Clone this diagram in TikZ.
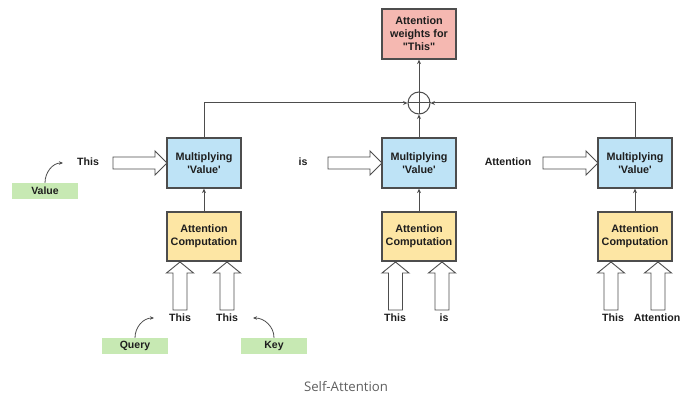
\documentclass[tikz,border=0pt]{standalone}
\usepackage{fontspec}
\setmainfont{Liberation Sans}[Ligatures=TeXOff]
\newfontfamily\capfont{Open Sans}
\usetikzlibrary{arrows.meta}

\definecolor{edge}{HTML}{4D4D4D}
\definecolor{ink}{HTML}{1E1E1E}
\definecolor{capgrey}{HTML}{5F5F5F}
\definecolor{redfill}{HTML}{F5B8B1}
\definecolor{bluefill}{HTML}{BEE3F6}
\definecolor{yellowfill}{HTML}{FDE6A4}
\definecolor{greenfill}{HTML}{C7E9B3}

% hollow block arrow pointing up: x of axis, y of tip, y of tail
\newcommand\hollowup[3]{%
  \draw[hollow] (#1-7,#3) -- (#1-7,#2+11) -- (#1-13.5,#2+11) -- (#1,#2)
    -- (#1+13.5,#2+11) -- (#1+7,#2+11) -- (#1+7,#3) -- cycle;}
% hollow block arrow pointing right: y of axis, x of tail, x of tip
\newcommand\hollowright[3]{%
  \draw[hollow] (#2,#1-6) -- (#3-12,#1-6) -- (#3-12,#1-12) -- (#3,#1)
    -- (#3-12,#1+12) -- (#3-12,#1+6) -- (#2,#1+6) -- cycle;}

\begin{document}
\begin{tikzpicture}[x=1pt,y=-1pt,
  box/.style={draw=edge, line width=1.3pt, minimum width=74pt, minimum height=50pt,
    inner sep=0pt, align=center, text=ink,
    font=\bfseries\fontsize{10.8}{13}\selectfont},
  redbox/.style={box, fill=redfill},
  multbox/.style={box, fill=bluefill},
  attbox/.style={box, fill=yellowfill, minimum height=49pt},
  tag/.style={fill=greenfill, minimum width=66pt, minimum height=16pt, inner sep=0pt,
    text=ink, font=\bfseries\fontsize{10.5}{12}\selectfont},
  lab/.style={inner sep=0pt, text=ink, font=\bfseries\fontsize{10.6}{12}\selectfont},
  conn/.style={draw=edge, line width=1pt, -{Stealth[length=4.5pt,width=4pt]}},
  curv/.style={draw=edge, line width=0.8pt, -{Stealth[length=4pt,width=3.5pt]}},
  hollow/.style={draw=edge, line width=0.9pt, fill=white, line join=miter},
  sumnode/.style={draw=edge, line width=1pt, circle, minimum size=22pt, inner sep=0pt}]

\useasboundingbox (0,0) rectangle (680,398);

% output and summation
\node[redbox] (out) at (419,34) {Attention\\weights for\\"This"};
\node[sumnode] (sum) at (419,103) {};

% value multiplication boxes
\node[multbox] (m1) at (204,163) {Multiplying\\'Value'};
\node[multbox] (m2) at (419,163) {Multiplying\\'Value'};
\node[multbox] (m3) at (635,163) {Multiplying\\'Value'};

% attention computation boxes
\node[attbox] (a1) at (204,236.5) {Attention\\Computation};
\node[attbox] (a2) at (419,236.5) {Attention\\Computation};
\node[attbox] (a3) at (635,236.5) {Attention\\Computation};

% connectors into the sum and the output
\draw[conn] (m1.north) |- (sum.west);
\draw[conn] (m3.north) |- (sum.east);
\draw[conn] (m2.north) -- (sum.south);
\draw[conn] (sum.north) -- (out.south);
\draw[draw=edge, line width=1pt] (sum.west) -- (sum.east) (sum.north) -- (sum.south);

\draw[conn] (a1.north) -- (m1.south);
\draw[conn] (a2.north) -- (m2.south);
\draw[conn] (a3.north) -- (m3.south);

% value words fed into the multiplication boxes
\node[lab] (v1) at (88,162) {This};
\node[lab] (v2) at (303,162) {is};
\node[lab] (v3) at (508,162) {Attention};
\hollowright{163}{113}{167}
\hollowright{163}{328}{382}
\hollowright{163}{543}{598}

% query / key words fed into the attention boxes
\hollowup{180}{262}{310}
\hollowup{227}{262}{310}
\hollowup{395.5}{262}{310}
\hollowup{442}{262}{310}
\hollowup{611}{262}{310}
\hollowup{658}{262}{310}
\node[lab] (q1) at (180,318) {This};
\node[lab] (k1) at (227,318) {This};
\node[lab] (q2) at (395,318) {This};
\node[lab] (k2) at (444,318) {is};
\node[lab] (q3) at (613,318) {This};
\node[lab] (k3) at (657,318) {Attention};

% role tags
\node[tag] (val) at (45,191) {Value};
\node[tag] (qry) at (135,346) {Query};
\node[tag] (key) at (274,346) {Key};
\coordinate (valend) at (63,163);
\coordinate (qryend) at (154,318);
\coordinate (keyend) at (253,318);
\draw[curv] (val.north) to[out=90,in=180] (valend);
\draw[curv] (qry.north) to[out=90,in=180] (qryend);
\draw[curv] (key.north) to[out=90,in=0] (keyend);

% caption
\node[text=capgrey, font=\capfont\fontsize{13.2}{16}\selectfont] (cap) at (346,387) {Self-Attention};
\end{tikzpicture}
\end{document}
